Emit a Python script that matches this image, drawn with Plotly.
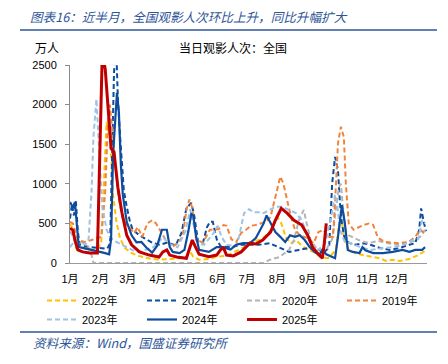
import plotly.graph_objects as go

# ---------------- data (day of year -> 万人) ----------------
month_labels = ["1月", "2月", "3月", "4月", "5月", "6月", "7月", "8月", "9月", "10月", "11月", "12月"]
month_start_days = [0, 31, 59, 90, 120, 151, 181, 212, 243, 273, 304, 334]

series_names = ["2022年", "2021年", "2020年", "2019年", "2023年", "2024年", "2025年"]

d2022 = [0, 3, 6, 10, 20, 28, 32, 35.6, 37.4, 40.7, 42.5, 44, 47.5, 51, 56, 63, 70, 80, 91, 100, 110, 118, 123, 126, 132, 142, 150, 160, 170, 178, 183, 193, 199, 206, 212, 216, 221, 226, 231, 236, 243, 249, 256, 264, 272, 275, 278, 280, 285, 292, 299, 310, 317, 323, 330, 337, 347, 356, 364]
v2022 = [500, 430, 190, 200, 170, 165, 265, 1360, 1780, 1580, 1280, 860, 520, 315, 190, 125, 90, 60, 40, 50, 55, 70, 140, 80, 40, 50, 80, 90, 150, 200, 250, 290, 330, 420, 580, 500, 315, 250, 290, 230, 165, 140, 75, 60, 165, 500, 540, 330, 165, 125, 100, 75, 60, 25, 40, 25, 50, 100, 160]

d2021 = [0, 2, 4, 6, 8, 10, 20, 30, 38, 41, 43, 45, 47, 49, 51, 53, 55, 58, 61, 64, 71, 78, 85, 92, 100, 108, 114, 119, 124, 127, 131, 136, 140, 143, 146, 150, 154, 165, 175, 185, 193, 204, 214, 224, 234, 244, 255, 259, 265, 268, 271, 274, 276, 278, 281, 286, 292, 300, 307, 317, 327, 337, 347, 353, 357, 359, 362, 364]
v2021 = [560, 740, 600, 780, 400, 230, 200, 190, 180, 250, 1300, 2400, 2800, 2060, 1640, 1215, 920, 710, 540, 420, 350, 300, 250, 230, 260, 220, 380, 690, 760, 600, 265, 260, 450, 520, 520, 300, 210, 200, 230, 230, 230, 250, 200, 140, 165, 190, 165, 125, 200, 1000, 1340, 1170, 760, 500, 290, 250, 230, 250, 230, 190, 165, 190, 230, 250, 420, 690, 500, 400]

d2020 = [0, 5, 12, 18, 22, 24, 60, 120, 198, 204, 214, 224, 229, 234, 239, 242, 246, 251, 256, 262, 268, 272, 275, 277, 279, 282, 285, 295, 305, 315, 325, 335, 345, 352, 358, 363]
v2020 = [400, 300, 260, 230, 100, 0, 0, 0, 0, 40, 75, 165, 290, 540, 670, 500, 290, 200, 165, 170, 300, 700, 960, 1000, 700, 400, 350, 290, 250, 280, 250, 230, 250, 280, 330, 420]

d2019 = [0, 3, 8, 15, 22, 28, 32, 36, 38.5, 40.7, 42, 44, 47, 50, 54, 58, 62, 66, 69, 74, 79, 84, 88, 92, 98, 104, 110, 115, 119, 122, 125, 129, 136, 143, 147, 152, 157, 160, 165, 170, 175, 180, 185, 190, 195, 200, 205, 210, 215, 218, 222, 226, 230, 235, 243, 249, 254, 259, 264, 269, 272, 274, 277, 280, 282, 285, 290, 296, 300, 306, 310, 315, 322, 336, 346, 353, 358, 362]
v2019 = [520, 500, 290, 265, 290, 315, 330, 900, 1700, 2000, 1850, 1590, 1150, 800, 560, 480, 430, 380, 455, 330, 500, 540, 500, 420, 290, 200, 250, 330, 670, 800, 700, 290, 260, 420, 420, 430, 480, 470, 300, 265, 380, 420, 470, 480, 500, 520, 580, 830, 1090, 1010, 800, 580, 420, 350, 315, 250, 390, 420, 330, 330, 1010, 1515, 1720, 1590, 1010, 500, 420, 455, 480, 500, 480, 315, 265, 250, 265, 330, 420, 380]

d2023 = [0, 4, 8, 12, 16, 19, 22, 24, 27, 30, 33, 37.5, 40.7, 45, 50, 55, 60, 66, 71, 78, 85, 90, 95, 100, 110, 118, 123, 126, 131, 137, 142, 147, 151, 155, 160, 166, 171, 178, 183, 188, 194, 198, 204, 210, 217, 224, 231, 237, 242, 247, 254, 261, 267, 271, 273, 276, 281, 287, 297, 307, 321, 331, 341, 351, 356, 360, 363]
v2023 = [200, 265, 240, 250, 230, 300, 900, 1600, 2070, 1430, 710, 420, 330, 280, 250, 220, 180, 150, 140, 170, 200, 250, 330, 250, 200, 400, 680, 500, 250, 230, 300, 380, 470, 330, 230, 220, 230, 630, 680, 640, 640, 630, 670, 710, 710, 670, 630, 540, 380, 200, 165, 250, 580, 860, 760, 420, 265, 250, 200, 165, 190, 200, 230, 290, 300, 540, 500]

d2024 = [0, 3, 5, 7, 9, 13, 23, 30, 36, 40, 42, 44, 46, 48, 50, 52, 54, 58, 63, 68, 73, 78, 84, 89, 94, 99, 102, 105, 112, 117, 121, 124, 126, 129, 132, 142, 150, 156, 164, 170, 177, 184, 190, 195, 198, 201, 205, 210, 215, 220, 225, 230, 235, 240, 245, 250, 255, 258, 262, 268, 271, 274, 278, 281, 284, 289, 296, 299, 302, 310, 320, 330, 340, 347, 353, 360, 363]
v2024 = [770, 700, 770, 440, 200, 190, 165, 140, 125, 110, 300, 1360, 1780, 2150, 1900, 1240, 860, 520, 350, 260, 265, 195, 130, 215, 420, 420, 200, 140, 125, 165, 400, 620, 600, 330, 165, 140, 200, 200, 170, 230, 250, 250, 315, 420, 500, 600, 500, 390, 330, 265, 350, 330, 350, 290, 200, 140, 100, 165, 110, 70, 60, 330, 730, 500, 165, 140, 125, 200, 160, 125, 125, 140, 165, 140, 165, 165, 200]

d2025 = [0, 3, 5, 8, 13, 20, 28, 33, 36, 39, 42, 45, 49, 53, 58, 63, 71, 81, 91, 95, 99, 102, 109, 119, 123, 125, 128, 132, 142, 150, 154, 157, 160, 167, 175, 184, 190, 197, 205, 210, 216, 222, 229, 237, 243, 248, 253, 258, 260, 262]
v2025 = [440, 415, 290, 165, 140, 125, 125, 2650, 2450, 1950, 1450, 1400, 950, 640, 350, 230, 140, 100, 75, 140, 165, 100, 75, 60, 200, 290, 210, 110, 80, 100, 170, 190, 100, 90, 140, 250, 240, 290, 390, 540, 690, 630, 540, 480, 350, 200, 125, 60, 250, 500]

y_ticks = [0, 500, 1000, 1500, 2000, 2500]

# ---------------- styles ----------------
colors = ["#FFC000", "#0E4C9E", "#B4B4B4", "#F0843C", "#9DC3E6", "#0E4C9E", "#C00000"]
dashes = ["5px,3px", "5px,3px", "5px,3px", "5px,3px", "5px,3px", "solid", "solid"]
widths = [2, 2, 2, 2, 2, 2.2, 3]

days = [d2022, d2021, d2020, d2019, d2023, d2024, d2025]
vals = [v2022, v2021, v2020, v2019, v2023, v2024, v2025]

fig = go.Figure()
for name, dd, vv, c, ds, w in zip(series_names, days, vals, colors, dashes, widths):
    fig.add_trace(go.Scatter(x=dd, y=vv, mode="lines", name=name,
                             line=dict(color=c, dash=ds, width=w)))

# page body adds an 8px offset; design in page pixels and subtract it
OFF = 8
W, H = 440, 356
L, T = 70 - OFF, 65 - OFF
pw, ph = 357, 198
R, B = W - L - pw, H - T - ph


def px(xp):
    return (xp - OFF - L) / pw


def py(yp):
    return (H - B - (yp - OFF)) / ph


BLUE = "#2E5597"
CJK = "Noto Sans CJK SC, sans-serif"
LAT = "Liberation Sans, Noto Sans CJK SC, sans-serif"

fig.update_layout(
    width=W, height=H,
    margin=dict(l=L, r=R, t=T, b=B),
    paper_bgcolor="white", plot_bgcolor="white",
    font=dict(family=LAT, size=11, color="#000000"),
    showlegend=True,
    legend=dict(orientation="h", x=px(42), xanchor="left", y=py(286), yanchor="top",
                entrywidth=55, entrywidthmode="pixels", itemwidth=30,
                font=dict(family=LAT, size=11, color="#000000"),
                bgcolor="rgba(0,0,0,0)", borderwidth=0, tracegroupgap=0),
    xaxis=dict(range=[0, 365], tickmode="array", tickvals=month_start_days, ticktext=month_labels,
               showgrid=False, zeroline=False, showline=True, linecolor="#9A9A9A", linewidth=1,
               ticks="", ticklabelstandoff=6, tickfont=dict(size=11, family=LAT)),
    yaxis=dict(range=[0, 2500], tickmode="array", tickvals=y_ticks,
               showgrid=False, zeroline=False, showline=True, linecolor="#8C8C8C", linewidth=1,
               ticks="outside", ticklen=4, tickcolor="#8C8C8C", ticklabelstandoff=6,
               tickfont=dict(size=11, family=LAT)),
    annotations=[
        dict(text="<i>图表16：近半月，全国观影人次环比上升，同比升幅扩大</i>", xref="paper", yref="paper",
             x=px(29), y=py(16.5), xanchor="left", yanchor="middle", showarrow=False, borderpad=0,
             font=dict(family=CJK, size=12.6, color=BLUE)),
        dict(text="万人", xref="paper", yref="paper", x=px(47), y=py(47), xanchor="center",
             yanchor="middle", showarrow=False, font=dict(family=CJK, size=12, color="#000000")),
        dict(text="当日观影人次：全国", xref="paper", yref="paper", x=px(233), y=py(47),
             xanchor="center", yanchor="middle", showarrow=False,
             font=dict(family=CJK, size=12, color="#000000")),
        dict(text="<i>资料来源：Wind，国盛证券研究所</i>", xref="paper", yref="paper",
             x=px(31), y=py(342), xanchor="left", yanchor="middle", showarrow=False,
             font=dict(family=CJK, size=12.6, color=BLUE)),
    ],
    shapes=[
        dict(type="line", xref="paper", yref="paper", x0=px(20), x1=px(437), y0=py(30), y1=py(30),
             line=dict(color=BLUE, width=1.5)),
        dict(type="line", xref="paper", yref="paper", x0=px(20), x1=px(437), y0=py(332), y1=py(332),
             line=dict(color=BLUE, width=1.5)),
    ],
)

fig.write_html("out.html")
